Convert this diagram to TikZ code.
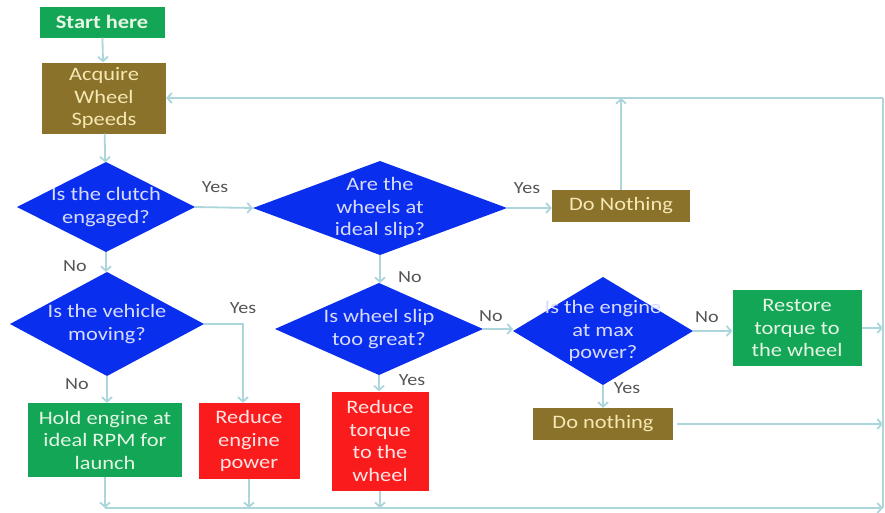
\documentclass[tikz,border=0pt]{standalone}
\usepackage{fontspec}
\setmainfont{Carlito}[FakeStretch=1.18]
\usetikzlibrary{shapes.geometric,arrows.meta}
\definecolor{cgreen}{RGB}{18,166,86}
\definecolor{gtext}{RGB}{230,245,228}
\definecolor{colive}{RGB}{139,114,42}
\definecolor{otext}{RGB}{245,232,180}
\definecolor{cred}{RGB}{250,28,28}
\definecolor{rtext}{RGB}{255,228,228}
\definecolor{cblue}{RGB}{10,46,238}
\definecolor{dtextc}{RGB}{215,220,255}
\definecolor{cline}{RGB}{172,214,220}
\definecolor{labc}{RGB}{85,85,85}
\begin{document}
\begin{tikzpicture}[x=1pt,y=-1pt,
  box/.style={rectangle, inner sep=2pt, align=center, font=\fontsize{19}{22.5}\selectfont},
  gbox/.style={box, fill=cgreen, text=gtext},
  obox/.style={box, fill=colive, text=otext},
  rbox/.style={box, fill=cred, text=rtext},
  dia/.style={diamond, fill=cblue, inner sep=0pt, outer sep=0pt},
  dtext/.style={text=dtextc, align=center, inner sep=0pt, font=\fontsize{19}{22.5}\selectfont},
  conn/.style={draw=cline, line width=1.8pt},
  arr/.style={conn, -{Straight Barb[length=4.5pt,width=10pt]}},
  lab/.style={text=labc, inner sep=0pt, font=\fontsize{17}{18}\selectfont}]
\useasboundingbox[fill=white] (0,0) rectangle (885,512);

% boxes
\node[gbox, minimum width=125, minimum height=31, font=\fontsize{19}{20}\selectfont\bfseries] (start) at (102,22) {Start here};
\node[obox, minimum width=124, minimum height=71] (acq) at (104,98) {Acquire\\Wheel\\Speeds};
\node[obox, minimum width=138, minimum height=32] (dn1) at (621,206) {Do Nothing};
\node[gbox, minimum width=129, minimum height=76] (restore) at (797,328) {Restore\\torque to\\the wheel};
\node[obox, minimum width=140, minimum height=32] (dn2) at (603,424) {Do nothing};
\node[gbox, minimum width=154, minimum height=74] (hold) at (105,440) {Hold engine at\\ideal RPM for\\launch};
\node[rbox, minimum width=101, minimum height=76] (rE) at (249,441) {Reduce\\engine\\power};
\node[rbox, minimum width=97, minimum height=99] (rT) at (380,441) {Reduce\\torque\\to the\\wheel};

% diamonds
\node[dia, minimum width=178, minimum height=90, label={[dtext]center:{Is the clutch\\engaged?}}] (d1) at (106,207) {};
\node[dia, minimum width=254, minimum height=94, label={[dtext]center:{Are the\\wheels at\\ideal slip?}}] (d2) at (380,208) {};
\node[dia, minimum width=194, minimum height=104, label={[dtext]center:{Is the vehicle\\moving?}}] (d3) at (107,324) {};
\node[dia, minimum width=208, minimum height=92, label={[dtext]center:{Is wheel slip\\too great?}}] (d4) at (379,329) {};
\node[dia, minimum width=180, minimum height=108, label={[dtext]center:{Is the engine\\at max\\power?}}] (d5) at (603,331) {};

% helper coordinates
\coordinate (rtop) at (883,98);
\coordinate (rbot) at (883,508);
\coordinate (yv) at (243,0);

% connectors
\draw[arr] (start) -- (acq);
\draw[arr] (acq) -- (d1);
\draw[arr] (d1.east) -- (d2.west);
\draw[arr] (d1.south) -- (d1.south |- d3.north);
\draw[arr] (d2.east) -- (d2.east -| dn1.west);
\draw[arr] (d2.south) -- (d2.south |- d4.north);
\draw[arr] (d4.east) -- (d4.east -| d5.west);
\draw[arr] (d5.east) -- (d5.east -| restore.west);
\draw[arr] (d5.south) -- (dn2.north);
\draw[arr] (d4.south) -- (d4.south |- rT.north);
\draw[arr] (d3.south) -- (d3.south |- hold.north);
\draw[arr] (d3.east) -| (yv |- rE.north);

\draw[conn] (rbot) -- (rtop);
\draw[arr] (rtop) -- (rtop -| acq.east);
\draw[arr] (dn1.north) -- (dn1.north |- rtop);
\draw[arr] (restore.east) -- (restore.east -| rtop);
\draw[arr, shorten <=4pt] (dn2.east) -- (dn2.east -| rtop);
\draw[arr] (hold.south |- rbot) -- (rbot);
\draw[arr] (hold.south) -- (hold.south |- rbot);
\draw[arr] (rE.south) -- (rE.south |- rbot);
\draw[arr] (rT.south) -- (rT.south |- rbot);

% labels
\node[lab] (l1) at (215,187) {Yes};
\node[lab] (l2) at (75,266) {No};
\node[lab] (l3) at (527,188) {Yes};
\node[lab] (l4) at (410,277) {No};
\node[lab] (l5) at (243,308) {Yes};
\node[lab] (l6) at (77,384) {No};
\node[lab] (l7) at (491,316) {No};
\node[lab] (l8) at (412,380) {Yes};
\node[lab] (l9) at (707,317) {No};
\node[lab] (l10) at (627,388) {Yes};
\end{tikzpicture}
\end{document}
